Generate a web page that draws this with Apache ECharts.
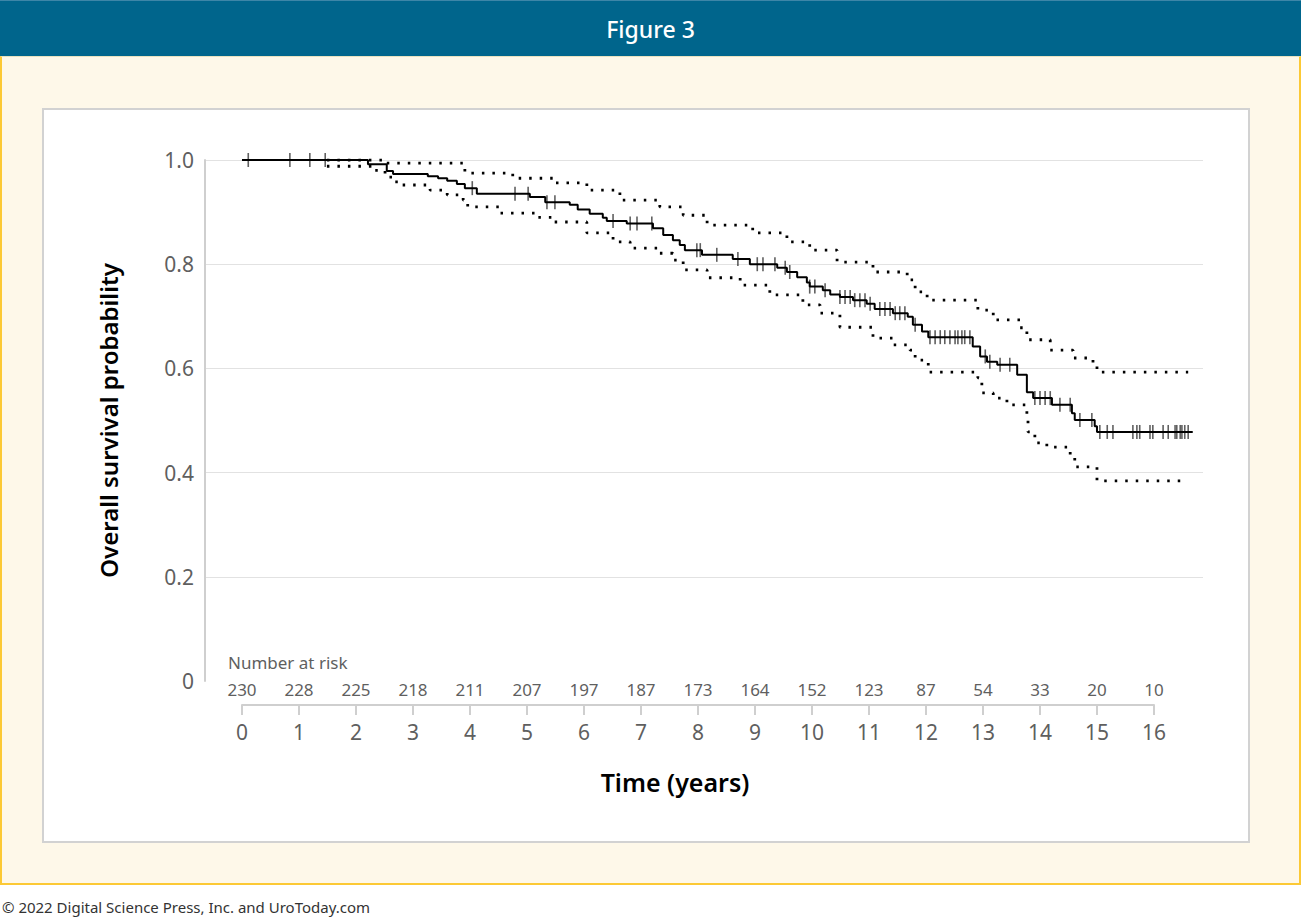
<!DOCTYPE html>
<html>
<head>
<meta charset="utf-8">
<script src="https://cdn.jsdelivr.net/npm/echarts@6/dist/echarts.min.js"></script>
<style>
  html, body { margin: 0; padding: 0; }
  body { width: 1301px; height: 918px; position: relative; background: #ffffff; font-family: "Noto Sans", sans-serif; overflow: hidden; }
  #banner { position: absolute; left: 0; top: 0; width: 1301px; height: 56px; background: #00658c; border-top: 1px solid #3d86a8; box-sizing: border-box; color: #fff; font-size: 23px; font-weight: 500; text-align: center; line-height: 56px; }
  #frame { position: absolute; left: 0; top: 56px; width: 1301px; height: 829px; box-sizing: border-box; background: #fef8e9; border: 2px solid #fcc935; border-top: 1px solid #e8e2c0; }
  #panel { position: absolute; left: 42px; top: 108px; width: 1208px; height: 735px; box-sizing: border-box; background: #fff; border: 2px solid #d2d2d2; }
  #chart { position: absolute; left: 0; top: 0; width: 1301px; height: 918px; }
  #footer { position: absolute; left: 2px; top: 897px; font-size: 15px; color: #333; }
</style>
</head>
<body>
<div id="banner">Figure 3</div>
<div id="frame"></div>
<div id="panel"></div>
<div id="chart"></div>
<div id="footer">© 2022 Digital Science Press, Inc. and UroToday.com</div>
<script>
// ---- Data ----
const yTicks = [0, 0.2, 0.4, 0.6, 0.8, 1.0];
const timeTicks = [0,1,2,3,4,5,6,7,8,9,10,11,12,13,14,15,16];
const atRisk = [230,228,225,218,211,207,197,187,173,164,152,123,87,54,33,20,10];

// Kaplan-Meier estimate: [time (years), survival after step]
const kmSurvival = [
  [0,1.0],[2.21,0.992],[2.54,0.979],[2.65,0.973],[3.26,0.969],[3.44,0.965],[3.60,0.960],
  [3.77,0.954],[3.91,0.946],[4.12,0.935],[5.05,0.929],[5.32,0.919],[5.75,0.914],[5.89,0.905],
  [6.10,0.897],[6.33,0.889],[6.40,0.883],[6.75,0.878],[7.21,0.869],[7.39,0.856],[7.56,0.846],
  [7.68,0.837],[7.77,0.827],[8.07,0.818],[8.61,0.810],[8.91,0.800],[9.39,0.793],[9.56,0.785],
  [9.74,0.775],[9.91,0.765],[9.96,0.757],[10.19,0.750],[10.32,0.742],[10.49,0.737],[10.72,0.731],
  [10.96,0.724],[11.10,0.714],[11.42,0.706],[11.68,0.699],[11.77,0.684],[11.93,0.671],[12.04,0.660],
  [12.82,0.642],[12.95,0.623],[13.07,0.613],[13.25,0.607],[13.60,0.588],[13.77,0.554],[13.88,0.543],
  [14.21,0.530],[14.56,0.514],[14.61,0.501],[14.96,0.489],[15.00,0.478],[16.68,0.478]
];
// Upper 95% confidence limit
const upperCI = [
  [1.49,1.0],[2.47,0.994],[3.91,0.975],[4.75,0.965],[5.46,0.956],[6.05,0.942],[6.63,0.923],
  [7.33,0.910],[7.74,0.894],[8.16,0.875],[8.96,0.860],[9.56,0.843],[9.96,0.827],[10.44,0.804],
  [11.07,0.785],[11.67,0.770],[11.81,0.747],[12.02,0.731],[12.91,0.712],[13.18,0.693],[13.65,0.678],
  [13.77,0.655],[14.18,0.635],[14.58,0.620],[14.93,0.610],[15.00,0.593],[16.60,0.593]
];
// Lower 95% confidence limit
const lowerCI = [
  [1.49,0.988],[2.28,0.980],[2.51,0.967],[2.65,0.958],[2.77,0.952],[3.30,0.942],[3.60,0.933],
  [3.88,0.923],[3.96,0.910],[4.53,0.898],[5.18,0.890],[5.46,0.881],[6.05,0.860],[6.51,0.843],
  [6.81,0.831],[7.33,0.821],[7.56,0.808],[7.74,0.789],[8.16,0.774],[8.74,0.760],[9.26,0.741],
  [9.84,0.722],[10.14,0.706],[10.49,0.679],[11.07,0.658],[11.42,0.645],[11.72,0.635],[11.81,0.616],
  [12.04,0.593],[12.91,0.582],[12.98,0.553],[13.18,0.543],[13.42,0.530],[13.77,0.510],[13.79,0.478],
  [13.91,0.457],[14.12,0.449],[14.53,0.434],[14.61,0.411],[15.00,0.384],[16.60,0.384]
];
// Censoring times (years)
const censorTimes = [
  0.11,0.84,1.19,1.46,4.04,4.79,5.02,5.35,5.49,6.51,6.81,6.93,7.19,7.98,8.04,8.33,8.70,9.04,9.14,
  9.35,9.53,9.61,9.96,10.05,10.23,10.49,10.58,10.67,10.75,10.84,10.93,11.02,11.19,11.28,11.37,11.46,
  11.54,11.63,11.81,12.07,12.16,12.25,12.33,12.42,12.51,12.56,12.63,12.68,12.77,13.04,13.12,13.30,
  13.47,13.91,14.00,14.09,14.18,14.35,14.53,14.70,14.91,15.05,15.18,15.28,15.63,15.70,15.75,15.93,
  15.98,16.16,16.25,16.37,16.40,16.46,16.49,16.54,16.60
];

function survivalAt(t) {
  let v = kmSurvival[0][1];
  for (const [tt, s] of kmSurvival) { if (tt <= t) v = s; else break; }
  return v;
}
const censorPoints = censorTimes.map(t => [t, survivalAt(t)]);

const gray = '#5f5f5f';
const chart = echarts.init(document.getElementById('chart'), null, { renderer: 'svg' });
chart.setOption({
  animation: false,
  grid: [
    { left: 205, top: 160, width: 998, height: 521 },
    { left: 242, top: 704, width: 912, height: 1 }
  ],
  xAxis: [
    { gridIndex: 0, type: 'value', min: -0.649, max: 16.86, show: false },
    { gridIndex: 1, type: 'value', position: 'bottom', min: 0, max: 16, interval: 1,
      axisLine: { show: true, lineStyle: { color: '#cfcfcf', width: 2 } },
      axisTick: { show: true, length: 10, lineStyle: { color: '#cfcfcf', width: 2 } },
      splitLine: { show: false },
      axisLabel: { color: gray, fontSize: 21, margin: 16, fontFamily: 'Noto Sans',
        formatter: v => timeTicks.includes(v) ? String(v) : '' },
      name: 'Time (years)', nameLocation: 'middle', nameGap: 64,
      nameTextStyle: { color: '#000', fontSize: 25, fontWeight: 600, fontFamily: 'Noto Sans', padding: [0, 46, 0, 0] } },
    { gridIndex: 1, type: 'value', position: 'top', min: 0, max: 16, interval: 1,
      axisLine: { show: false }, axisTick: { show: false }, splitLine: { show: false },
      axisLabel: { color: gray, fontSize: 17, margin: 6, fontFamily: 'Noto Sans',
        formatter: v => { const i = timeTicks.indexOf(v); return i >= 0 ? String(atRisk[i]) : ''; } } }
  ],
  yAxis: [
    { gridIndex: 0, type: 'value', min: 0, max: 1, interval: 0.2,
      axisLine: { show: true, onZero: false, lineStyle: { color: '#cfcfcf', width: 2 } },
      axisTick: { show: false },
      splitLine: { show: true, lineStyle: { color: ['rgba(0,0,0,0)', '#e2e2e2', '#e2e2e2', '#e2e2e2', '#e2e2e2', '#e2e2e2'], width: 1 } },
      axisLabel: { color: gray, fontSize: 21, margin: 11, fontFamily: 'Noto Sans',
        formatter: v => { const m = yTicks.find(t => Math.abs(t - v) < 1e-9); return m === 0 ? '0' : m.toFixed(1); } },
      name: 'Overall survival probability', nameLocation: 'middle', nameRotate: 90, nameGap: 85,
      nameTextStyle: { color: '#000', fontSize: 24, fontWeight: 600, fontFamily: 'Noto Sans' } },
    { gridIndex: 1, type: 'value', show: false, min: 0, max: 1 }
  ],
  graphic: [
    { type: 'text', left: 228, top: 654, style: { text: 'Number at risk', fill: gray, fontSize: 17, fontFamily: 'Noto Sans' } }
  ],
  series: [
    { type: 'line', name: 'Lower CI', xAxisIndex: 0, yAxisIndex: 0, data: lowerCI, step: 'end', symbol: 'none',
      lineStyle: { color: '#000', width: 2.8, type: [2.5, 8] } },
    { type: 'line', name: 'Upper CI', xAxisIndex: 0, yAxisIndex: 0, data: upperCI, step: 'end', symbol: 'none',
      lineStyle: { color: '#000', width: 2.8, type: [2.5, 8] } },
    { type: 'line', name: 'Overall survival', xAxisIndex: 0, yAxisIndex: 0, data: kmSurvival, step: 'end', symbol: 'none',
      lineStyle: { color: '#000', width: 2 } },
    { type: 'scatter', name: 'Censored', xAxisIndex: 0, yAxisIndex: 0, data: censorPoints,
      symbol: 'rect', symbolSize: [1.6, 14], itemStyle: { color: 'rgba(20,20,20,0.85)' } }
  ]
});
</script>
</body>
</html>
